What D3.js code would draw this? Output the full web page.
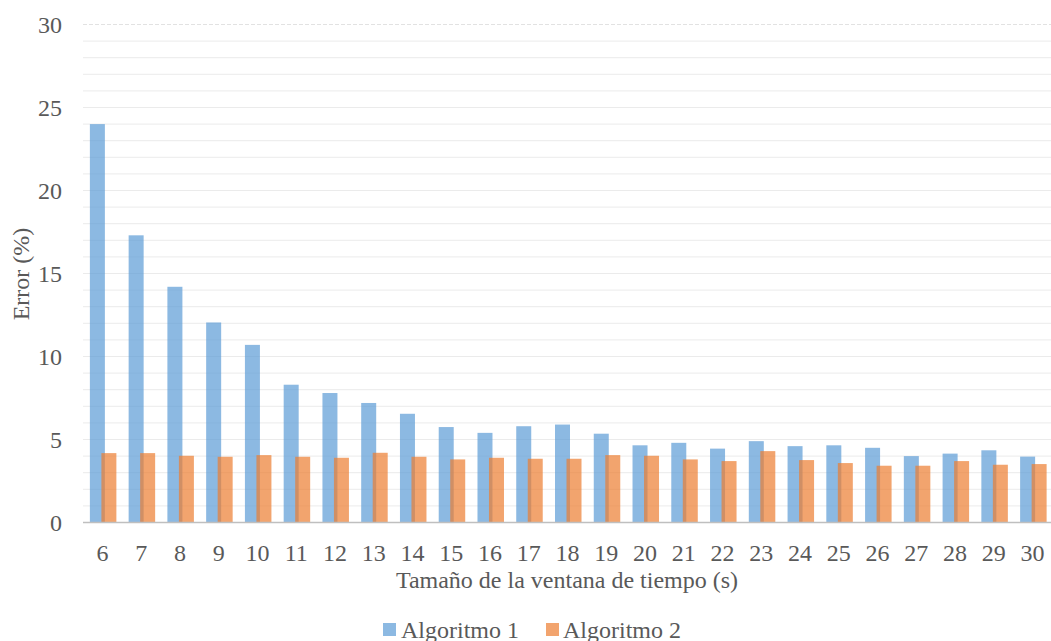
<!DOCTYPE html>
<html>
<head>
<meta charset="utf-8">
<script src="https://cdn.jsdelivr.net/npm/d3@7"></script>
<style>
  html, body { margin: 0; padding: 0; background: #fff; }
  svg { display: block; }
  text { font-family: "Liberation Serif", "Times New Roman", serif; fill: #595959; }
</style>
</head>
<body>
<svg id="chart" width="1051" height="641"></svg>
<script>
// Window size in seconds
const categories = [6, 7, 8, 9, 10, 11, 12, 13, 14, 15, 16, 17, 18, 19, 20, 21, 22, 23, 24, 25, 26, 27, 28, 29, 30];
// Error (%) per algorithm
const algoritmo1 = [24.0, 17.3, 14.2, 12.05, 10.7, 8.3, 7.8, 7.2, 6.55, 5.75, 5.4, 5.8, 5.9, 5.35, 4.65, 4.8, 4.45, 4.9, 4.6, 4.65, 4.5, 4.0, 4.15, 4.35, 3.97];
const algoritmo2 = [4.18, 4.18, 4.02, 3.96, 4.06, 3.96, 3.9, 4.2, 3.96, 3.8, 3.9, 3.84, 3.84, 4.06, 4.02, 3.8, 3.7, 4.3, 3.76, 3.58, 3.42, 3.42, 3.7, 3.48, 3.52];
const seriesNames = ["Algoritmo 1", "Algoritmo 2"];
const yTickLabels = [0, 5, 10, 15, 20, 25, 30];
const xTitle = "Tamaño de la ventana de tiempo (s)";
const yTitle = "Error (%)";

const colors = ["rgb(91,155,213)", "rgb(237,125,49)"];
const barOpacity = 0.7;

const svg = d3.select("#chart");
const plot = { left: 83, right: 1052, top: 24.5, bottom: 522.5 };

const x = d3.scaleBand().domain(categories).range([plot.left, plot.right]);
const y = d3.scaleLinear().domain([0, 30]).range([plot.bottom, plot.top]);

// Minor gridlines every unit, dashed top line
const grid = svg.append("g");
d3.range(1, 31).forEach(v => {
  grid.append("line")
    .attr("x1", plot.left).attr("x2", 1051)
    .attr("y1", y(v)).attr("y2", y(v))
    .attr("stroke", v === 30 ? "#e2e2e2" : "#ebebeb")
    .attr("stroke-width", 1)
    .attr("stroke-dasharray", v === 30 ? "4,2" : null);
});

// Bars: two overlapping series per category
const barW = 15;
const offsets = [-12.5, -1];
const seriesData = [algoritmo1, algoritmo2];
seriesData.forEach((vals, si) => {
  svg.append("g")
    .selectAll("rect")
    .data(categories.map((c, i) => ({ c, v: vals[i] })))
    .join("rect")
    .attr("x", d => x(d.c) + x.bandwidth() / 2 + offsets[si])
    .attr("width", barW)
    .attr("y", d => y(d.v))
    .attr("height", d => y(0) - y(d.v))
    .attr("fill", colors[si])
    .attr("fill-opacity", barOpacity);
});

// Baseline
svg.append("line")
  .attr("x1", plot.left).attr("x2", 1051)
  .attr("y1", y(0)).attr("y2", y(0))
  .attr("stroke", "#bfbfbf").attr("stroke-width", 1.5);

// Y axis labels
const yAxis = d3.axisLeft(y).tickValues(yTickLabels).tickSize(0).tickPadding(0);
const yg = svg.append("g").attr("transform", "translate(62,0)").call(yAxis);
yg.select(".domain").remove();
yg.selectAll("text")
  .attr("font-size", 24)
  .attr("dy", "0.33em")
  .style("font-family", "Liberation Serif, serif")
  .attr("fill", "#595959");

// X axis labels
const xAxis = d3.axisBottom(x).tickSize(0).tickPadding(0);
const xg = svg.append("g").attr("transform", "translate(0,544)").call(xAxis);
xg.select(".domain").remove();
xg.selectAll("text")
  .attr("font-size", 24)
  .attr("dy", "0.71em")
  .style("font-family", "Liberation Serif, serif")
  .attr("fill", "#595959");

// Axis titles
svg.append("text")
  .attr("x", (plot.left + 1051) / 2 - 0).attr("y", 588)
  .attr("text-anchor", "middle")
  .attr("font-size", 24)
  .text(xTitle);

svg.append("text")
  .attr("transform", "translate(29,274) rotate(-90)")
  .attr("text-anchor", "middle")
  .attr("font-size", 24)
  .text(yTitle);

// Legend
const legendItems = [{ x: 383, tx: 401 }, { x: 546, tx: 563 }];
legendItems.forEach((it, i) => {
  svg.append("rect")
    .attr("x", it.x).attr("y", 623)
    .attr("width", 13).attr("height", 13)
    .attr("fill", colors[i]).attr("fill-opacity", barOpacity);
  svg.append("text")
    .attr("x", it.tx).attr("y", 638)
    .attr("font-size", 24)
    .text(seriesNames[i]);
});
</script>
</body>
</html>
